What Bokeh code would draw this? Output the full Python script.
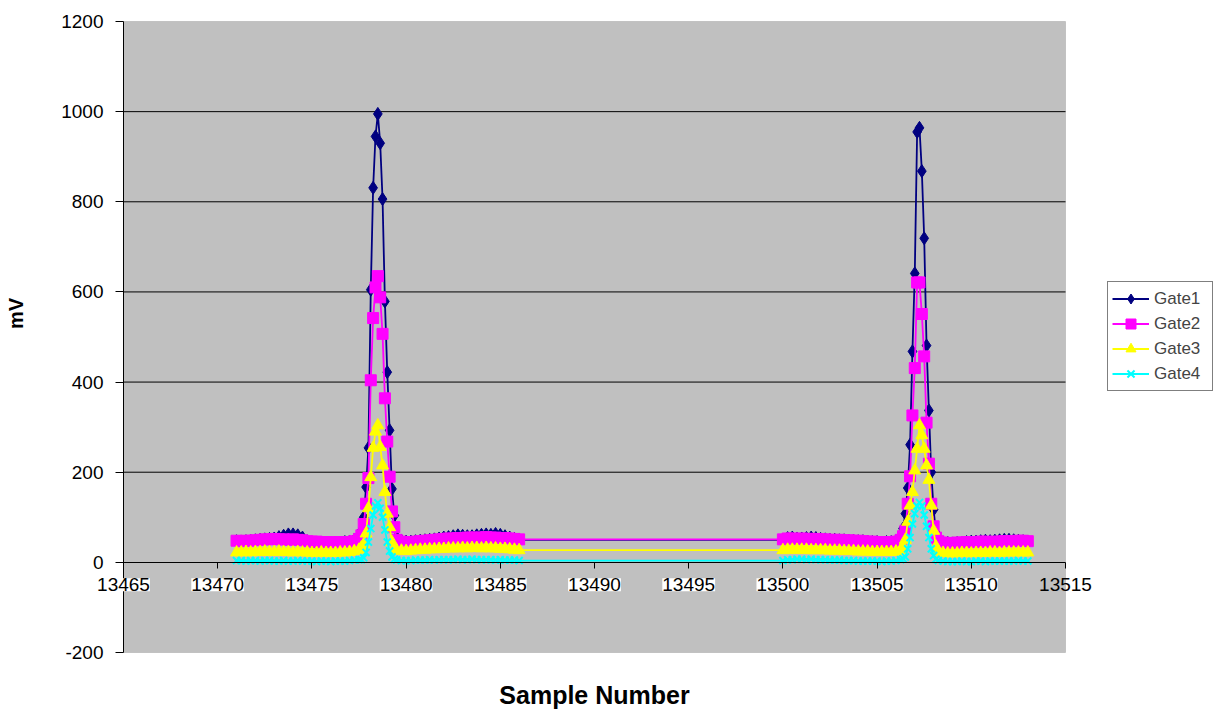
import math
from bokeh.plotting import figure
from bokeh.models import (Range1d, FixedTicker, Legend, LegendItem, Label,
                          LabelSet, ColumnDataSource, BoxAnnotation)
from bokeh.core.properties import value
from bokeh.embed import file_html
from bokeh.resources import INLINE

# ---------------- data ----------------
sample = [
    # segment 1, before peak 1
    13471.0, 13471.25, 13471.5, 13471.75, 13472.0, 13472.25, 13472.5, 13472.75, 13473.0,
    13473.25, 13473.5, 13473.75, 13474.0, 13474.25, 13474.5, 13474.75, 13475.0, 13475.25,
    13475.5, 13475.75, 13476.0, 13476.25, 13476.5, 13476.75, 13477.0, 13477.25, 13477.5,
    # peak 1
    13477.625, 13477.75, 13477.875, 13478.0, 13478.125, 13478.25, 13478.375, 13478.5,
    13478.625, 13478.75, 13478.875, 13479.0, 13479.125, 13479.25, 13479.375, 13479.5,
    # after peak 1
    13479.75, 13480.0, 13480.25, 13480.5, 13480.75, 13481.0, 13481.25, 13481.5, 13481.75,
    13482.0, 13482.25, 13482.5, 13482.75, 13483.0, 13483.25, 13483.5, 13483.75, 13484.0,
    13484.25, 13484.5, 13484.75, 13485.0, 13485.25, 13485.5, 13485.75, 13486.0,
    # segment 2, before peak 2
    13500.0, 13500.25, 13500.5, 13500.75, 13501.0, 13501.25, 13501.5, 13501.75, 13502.0,
    13502.25, 13502.5, 13502.75, 13503.0, 13503.25, 13503.5, 13503.75, 13504.0, 13504.25,
    13504.5, 13504.75, 13505.0, 13505.25, 13505.5, 13505.75, 13506.0, 13506.25,
    # peak 2
    13506.375, 13506.5, 13506.625, 13506.75, 13506.875, 13507.0, 13507.125, 13507.25,
    13507.375, 13507.5, 13507.625, 13507.75, 13507.875, 13508.0, 13508.125, 13508.25,
    # after peak 2
    13508.5, 13508.75, 13509.0, 13509.25, 13509.5, 13509.75, 13510.0, 13510.25, 13510.5,
    13510.75, 13511.0, 13511.25, 13511.5, 13511.75, 13512.0, 13512.25, 13512.5, 13512.75,
    13513.0,
]

gate1 = [
    47, 46, 47, 48, 49, 50, 51, 52, 53, 56, 59, 62, 62, 60, 55, 47, 43, 42, 42, 43, 43, 44, 44, 45, 46, 50, 58,
    70, 100, 167, 254, 605, 831, 945, 995, 930, 806, 579, 422, 293, 163, 104, 55,
    48, 46, 46, 47, 48, 49, 50, 51, 53, 55, 56, 58, 60, 59, 58, 58, 60, 61, 62, 61, 63, 61, 58, 55, 52, 50,
    50, 54, 55, 53, 53, 54, 55, 54, 52, 51, 50, 50, 49, 49, 48, 48, 47, 47, 46, 45, 45, 44, 45, 45, 47, 55,
    75, 108, 165, 261, 468, 641, 955, 964, 868, 719, 481, 337, 200, 117, 65, 48,
    44, 43, 42, 43, 44, 45, 46, 46, 47, 48, 47, 48, 49, 50, 50, 49, 48, 47, 46,
]
gate2 = [
    48, 47, 48, 48, 49, 50, 51, 51, 52, 51, 51, 50, 51, 50, 49, 47, 46, 46, 45, 45, 45, 44, 45, 45, 45, 47, 52,
    60, 85, 130, 187, 404, 542, 610, 635, 588, 507, 364, 268, 190, 113, 78, 50,
    46, 45, 45, 46, 47, 48, 49, 50, 51, 52, 53, 53, 54, 54, 55, 55, 55, 55, 56, 55, 55, 54, 54, 53, 52, 51,
    51, 53, 53, 52, 53, 52, 52, 52, 51, 51, 50, 50, 50, 49, 49, 48, 48, 47, 46, 46, 45, 45, 45, 45, 46, 50,
    58, 70, 130, 191, 326, 431, 621, 621, 551, 457, 310, 219, 130, 80, 55, 47,
    44, 43, 43, 44, 44, 45, 45, 45, 46, 46, 45, 46, 46, 47, 47, 47, 48, 48, 47,
]
gate3 = [
    22, 22, 23, 22, 23, 23, 24, 23, 23, 24, 23, 23, 22, 23, 22, 22, 21, 21, 22, 21, 21, 21, 22, 22, 23, 25, 28,
    33, 40, 64, 120, 189, 254, 290, 304, 256, 215, 156, 108, 78, 45, 30, 26,
    26, 25, 26, 27, 28, 28, 29, 29, 30, 30, 31, 31, 31, 32, 31, 32, 32, 31, 32, 31, 31, 30, 30, 29, 28, 27,
    27, 28, 28, 28, 28, 28, 27, 27, 27, 27, 26, 26, 26, 25, 25, 25, 24, 24, 24, 23, 23, 23, 23, 23, 24, 28,
    35, 50, 90, 126, 156, 204, 252, 304, 282, 252, 215, 183, 126, 70, 35, 24,
    21, 20, 20, 20, 21, 21, 20, 21, 21, 21, 22, 22, 21, 22, 22, 22, 22, 22, 22,
]
gate4 = [
    4, 4, 3, 4, 4, 3, 4, 4, 3, 3, 4, 3, 3, 4, 3, 3, 3, 2, 3, 3, 2, 3, 3, 3, 4, 5, 6,
    6, 10, 22, 45, 75, 105, 125, 132, 120, 100, 72, 45, 25, 12, 7, 5,
    4, 4, 4, 5, 5, 5, 6, 5, 6, 6, 6, 6, 7, 6, 6, 7, 6, 6, 6, 6, 5, 6, 5, 5, 5, 4,
    4, 6, 6, 7, 7, 6, 7, 6, 6, 6, 5, 5, 5, 4, 4, 4, 3, 3, 3, 3, 3, 2, 3, 3, 4, 6,
    8, 12, 30, 55, 85, 108, 125, 133, 125, 105, 80, 55, 30, 15, 7, 4,
    3, 2, 2, 2, 3, 2, 2, 3, 3, 2, 3, 3, 3, 3, 3, 3, 4, 3, 3,
]

series_names = ["Gate1", "Gate2", "Gate3", "Gate4"]
x_ticks = [13465, 13470, 13475, 13480, 13485, 13490, 13495, 13500, 13505, 13510, 13515]
y_ticks = [-200, 0, 200, 400, 600, 800, 1000, 1200]

# ---------------- layout (plot area placed inside a full-canvas frame) ----------------
W, H = 1214, 709
PX_L, PX_R, PX_T, PX_B = 123, 1065, 21, 652
X0, X1 = x_ticks[0], x_ticks[-1]
Y0, Y1 = y_ticks[0], y_ticks[-1]
sx = (PX_R - PX_L) / (X1 - X0)
sy = (PX_B - PX_T) / (Y1 - Y0)
xr = Range1d(X0 - PX_L / sx, X1 + (W - PX_R) / sx)
yr = Range1d(Y0 - (H - PX_B) / sy, Y1 + PX_T / sy)

FONT = "Liberation Sans"
p = figure(width=W, height=H, output_backend="svg", toolbar_location=None,
           x_range=xr, y_range=yr, min_border=0, min_border_left=0,
           min_border_right=0, min_border_top=0, min_border_bottom=0,
           background_fill_color="white", border_fill_color="white")
p.outline_line_color = None
p.xgrid.visible = False
p.ygrid.visible = False

# gray plot area
p.add_layout(BoxAnnotation(left=X0, right=X1, bottom=Y0, top=Y1, level="underlay",
                           fill_color="#C0C0C0", fill_alpha=1,
                           line_color="#808080", line_width=1))

# horizontal grid lines (inner y ticks)
gy = [t for t in y_ticks if Y0 < t < Y1 and t != 0]
p.segment(x0=[X0] * len(gy), x1=[X1] * len(gy), y0=gy, y1=gy,
          line_color="black", line_width=1)

# y axis at left edge of plot area
p.yaxis.fixed_location = X0
p.yaxis.bounds = (Y0, Y1)
p.yaxis.ticker = FixedTicker(ticks=y_ticks)
p.yaxis.major_label_overrides = {t: str(t) for t in y_ticks}
p.yaxis.axis_line_color = "black"
p.yaxis.major_tick_line_color = "black"
p.yaxis.major_tick_out = 8
p.yaxis.major_tick_in = 0
p.yaxis.minor_tick_line_color = None
p.yaxis.major_label_standoff = 12
p.yaxis.major_label_text_font = FONT
p.yaxis.major_label_text_font_size = "19px"
p.yaxis.major_label_text_color = "black"

# x axis at y = 0
p.xaxis.fixed_location = 0
p.xaxis.bounds = (X0, X1)
p.xaxis.ticker = FixedTicker(ticks=x_ticks)
p.xaxis.axis_line_color = "black"
p.xaxis.major_tick_line_color = "black"
p.xaxis.major_tick_out = 6
p.xaxis.major_tick_in = 0
p.xaxis.minor_tick_line_color = None
p.xaxis.major_label_text_color = None

colors = ["#000080", "#FF00FF", "#FFFF00", "#00FFFF"]
markers = ["diamond", "square", "triangle", "x"]
sizes = [13, 11, 12, 10]
data = [gate1, gate2, gate3, gate4]

items = []
for name, ys, c, m, s in zip(series_names, data, colors, markers, sizes):
    src = ColumnDataSource(dict(x=sample, y=ys))
    ln = p.line("x", "y", source=src, line_color=c, line_width=1.8)
    if m == "x":
        sc = p.scatter("x", "y", source=src, marker=m, size=s, line_color=c,
                       line_width=2)
    else:
        sc = p.scatter("x", "y", source=src, marker=m, size=s, fill_color=c,
                       line_color=c, line_width=1)
    items.append(LegendItem(label=name, renderers=[ln, sc]))

# x tick labels (white boxes inside the plot area)
boxed = x_ticks[:-1]
lab_src = ColumnDataSource(dict(x=boxed, y=[0] * len(boxed), t=[str(v) for v in boxed]))
p.add_layout(LabelSet(x="x", y="y", text="t", source=lab_src, text_align="center",
                      text_baseline="top", y_offset=-16, text_font=value(FONT),
                      text_font_size="19px", text_color="black",
                      background_fill_color="white"))
p.add_layout(Label(x=x_ticks[-1], y=0, text=str(x_ticks[-1]), text_align="center",
                   text_baseline="top", y_offset=-16, text_font=FONT,
                   text_font_size="19px", text_color="black"))

# axis titles
p.add_layout(Label(x=(X0 + X1) / 2, y=Y0, y_offset=-42, text="Sample Number",
                   text_align="center", text_baseline="middle", text_font=FONT,
                   text_font_size="25px", text_font_style="bold", text_color="black"))
p.add_layout(Label(x=X0, y=552, x_offset=-108, text="mV", angle=math.pi / 2,
                   text_align="center", text_baseline="middle", text_font=FONT,
                   text_font_size="20px", text_font_style="bold", text_color="black"))

legend = Legend(items=items, location=(1107, H - 391), orientation="vertical")
legend.border_line_color = "black"
legend.border_line_width = 1
legend.background_fill_color = "white"
legend.background_fill_alpha = 1
legend.label_text_font = FONT
legend.label_text_font_size = "17px"
legend.glyph_width = 37
legend.glyph_height = 25
legend.label_height = 25
legend.label_width = 54
legend.spacing = 0
legend.padding = 4
legend.margin = 0
legend.label_standoff = 5
p.add_layout(legend)

open("out.html", "w").write(file_html(p, INLINE))
